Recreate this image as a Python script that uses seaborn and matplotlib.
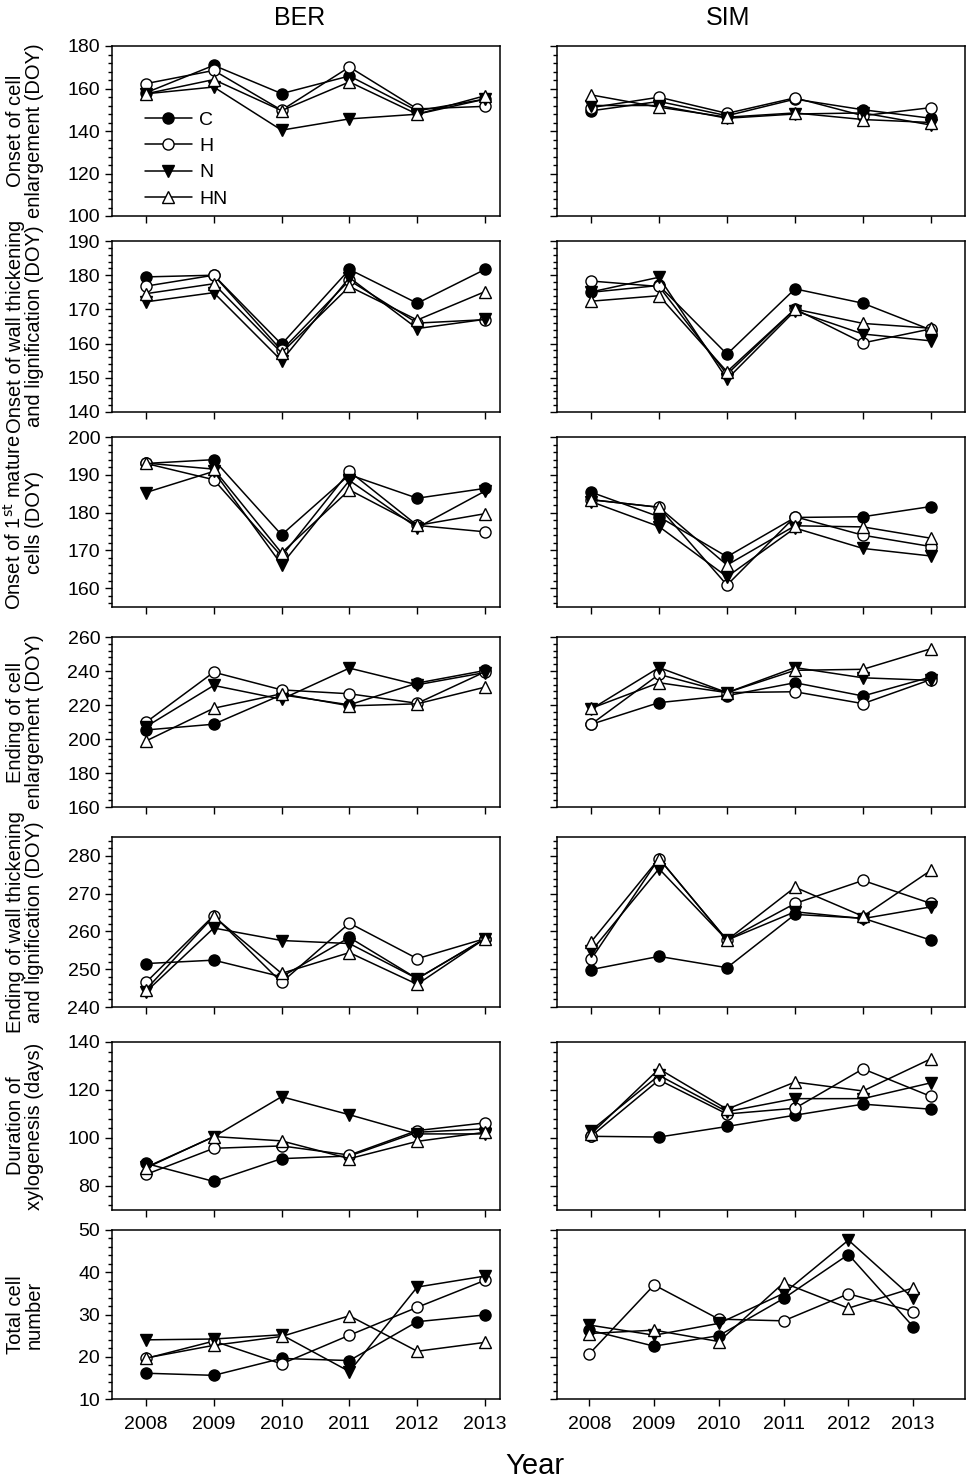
import matplotlib
matplotlib.use('Agg')
import matplotlib.pyplot as plt
from matplotlib.ticker import AutoMinorLocator, MultipleLocator
import pandas as pd
import seaborn as sns

sns.set_style('ticks')
plt.rcParams['font.family'] = ['Liberation Sans', 'DejaVu Sans']
plt.rcParams.update({'text.color': 'black', 'axes.labelcolor': 'black',
                     'xtick.color': 'black', 'ytick.color': 'black',
                     'axes.edgecolor': 'black'})

years = [2008, 2009, 2010, 2011, 2012, 2013]
treatments = ['C', 'H', 'N', 'HN']

# BER site
ber_enl_onset = {'C': [158, 170.9, 157.6, 165.9, 149.5, 155],
                 'H': [162.3, 168.5, 149.8, 170.1, 150.4, 151.6],
                 'N': [157.5, 160.7, 140.4, 145.7, 147.9, 155],
                 'HN': [157.5, 164.2, 149.6, 163.1, 147.9, 156.6]}
ber_wall_onset = {'C': [179.5, 180, 159.8, 181.7, 171.8, 181.7],
                  'H': [176.8, 180, 158, 178.5, 166, 167],
                  'N': [172.2, 174.9, 155, 179.3, 164.4, 167.1],
                  'HN': [174.6, 177.5, 157.3, 176.7, 166.9, 175.2]}
ber_mature_onset = {'C': [193, 194, 174.1, 190, 183.8, 186.4],
                    'H': [193, 188.7, 168.4, 190.9, 176.6, 174.9],
                    'N': [185.3, 190.9, 166.2, 188.5, 176, 185.7],
                    'HN': [193.1, 191.5, 169.3, 186, 176.6, 179.7]}
ber_enl_end = {'C': [205.3, 208.7, 226, 220.1, 232.9, 240.3],
               'H': [209.8, 239.3, 228.9, 226.6, 221, 239.5],
               'N': [207.2, 231.5, 223.4, 241.7, 231.9, 239.1],
               'HN': [198.8, 218.1, 226.6, 219.5, 220.7, 230.5]}
ber_wall_end = {'C': [251.5, 252.4, 248, 258.4, 247.5, 258.1],
                'H': [246.5, 264.2, 246.5, 262.2, 252.8, 258.1],
                'N': [244, 260.9, 257.6, 256.8, 247.5, 258.1],
                'HN': [244.6, 264, 248.9, 254.4, 246, 258.1]}
ber_duration = {'C': [89.4, 81.9, 91.4, 92.5, 102.4, 103.8],
                'H': [84.8, 95.7, 96.7, 92.9, 103.1, 106.3],
                'N': [87.8, 100.5, 117.2, 109.7, 101.7, 101.7],
                'HN': [87.5, 100.6, 98.8, 91.4, 98.6, 102.4]}
ber_cells = {'C': [16.1, 15.6, 19.6, 19.1, 28.3, 29.9],
             'H': [19.6, 23.7, 18.3, 25.1, 31.7, 38.1],
             'N': [24, 24.2, 25.2, 16.5, 36.5, 39.1],
             'HN': [19.7, 22.7, 24.8, 29.7, 21.3, 23.4]}

# SIM site
sim_enl_onset = {'C': [149.5, 153.9, 147.2, 155, 150, 146],
                 'H': [151, 155.9, 148.3, 155.6, 147.2, 151],
                 'N': [152, 152, 146, 148, 148.5, 142.8],
                 'HN': [157, 151.2, 146.5, 148.5, 145.4, 144]}
sim_wall_onset = {'C': [175, 177, 156.9, 176, 171.8, 164],
                  'H': [178.3, 176.7, 151, 170.1, 160.2, 164.3],
                  'N': [175.1, 179.4, 149.6, 169.6, 162.8, 160.8],
                  'HN': [172.4, 174, 151.8, 170.1, 165.9, 164.5]}
sim_mature_onset = {'C': [185.4, 178.9, 168.3, 178.7, 178.9, 181.6],
                    'H': [183.4, 181.4, 160.8, 178.9, 174, 171],
                    'N': [182.9, 176.3, 163, 175.9, 170.5, 168.5],
                    'HN': [183.4, 181.4, 166.1, 176.5, 176.2, 173.2]}
sim_enl_end = {'C': [208.6, 221.4, 225.5, 233.1, 225.3, 236.5],
               'H': [208.6, 238, 227.3, 227.8, 220.8, 235],
               'N': [217.5, 242, 227.3, 242, 236, 234.5],
               'HN': [218, 233.1, 227.3, 240.4, 241, 253.1]}
sim_wall_end = {'C': [249.9, 253.4, 250.4, 264.5, 263.5, 257.7],
                'H': [252.6, 279.3, 257.7, 267.4, 273.5, 267.4],
                'N': [254.7, 276.6, 257.7, 265.2, 263.4, 266.5],
                'HN': [257.2, 279.3, 257.7, 271.7, 264, 276.2]}
sim_duration = {'C': [100.7, 100.4, 104.8, 109.5, 114.1, 112],
                'H': [100.7, 124.2, 110, 112.4, 128.8, 117.3],
                'N': [103.1, 126.1, 111, 116.4, 116.4, 123],
                'HN': [101.7, 128.8, 112, 123.3, 119.6, 133]}
sim_cells = {'C': [26.3, 22.5, 25, 33.8, 44.2, 27.1],
             'H': [20.7, 37, 28.9, 28.5, 34.9, 30.7],
             'N': [27.5, 25.1, 27.9, 35, 47.6, 33.8],
             'HN': [25.5, 26.3, 23.6, 37.5, 31.5, 36.3]}

ylabels = ['Onset of cell\nenlargement (DOY)',
           'Onset of wall thickening\nand lignification (DOY)',
           'Onset of 1$^{\\mathrm{st}}$ mature\ncells (DOY)',
           'Ending of cell\nenlargement (DOY)',
           'Ending of wall thickening\nand lignification (DOY)',
           'Duration of\nxylogenesis (days)',
           'Total cell\nnumber']
ylims = [(100, 180), (140, 190), (155, 200), (160, 260), (240, 285), (70, 140), (10, 50)]
ysteps = [20, 10, 10, 20, 10, 20, 10]
ber_panels = [ber_enl_onset, ber_wall_onset, ber_mature_onset, ber_enl_end,
              ber_wall_end, ber_duration, ber_cells]
sim_panels = [sim_enl_onset, sim_wall_onset, sim_mature_onset, sim_enl_end,
              sim_wall_end, sim_duration, sim_cells]

marker_style = {'C': ('o', 'black'), 'H': ('o', 'white'),
                'N': ('v', 'black'), 'HN': ('^', 'white')}

W, H = 970, 1484
fig = plt.figure(figsize=(W / 100, H / 100), dpi=100)

row_px = [(46, 216), (241, 412), (437, 607), (637, 807),
          (837, 1007), (1042, 1210), (1230, 1399)]
col_px = [(112, 500), (557, 965)]


def long_df(d):
    rows = []
    for t in treatments:
        for yr, v in zip(years, d[t]):
            rows.append({'year': yr, 'value': v, 'trt': t})
    return pd.DataFrame(rows)


for r, (top, bot) in enumerate(row_px):
    for c, (left, right) in enumerate(col_px):
        ax = fig.add_axes([left / W, 1 - bot / H, (right - left) / W, (bot - top) / H])
        d = ber_panels[r] if c == 0 else sim_panels[r]
        df = long_df(d)
        for t in treatments:
            m, fc = marker_style[t]
            sub = df[df.trt == t]
            sns.lineplot(data=sub, x='year', y='value', ax=ax, color='black',
                         marker=m, markersize=8, markerfacecolor=fc,
                         markeredgecolor='black', markeredgewidth=1.0,
                         linewidth=1.1, label=t, legend=False)
        ax.set_ylim(*ylims[r])
        ax.yaxis.set_major_locator(MultipleLocator(ysteps[r]))
        ax.yaxis.set_minor_locator(AutoMinorLocator(5))
        if c == 0:
            ax.set_xlim(2007.5, 2013.22)
        elif r == 6:
            ax.set_xlim(2007.5, 2013.8)
        else:
            ax.set_xlim(2007.5, 2013.5)
        ax.set_xticks(years)
        ax.tick_params(axis='both', which='major', direction='out', length=5,
                       width=1, labelsize=14, color='black', labelcolor='black')
        ax.tick_params(axis='x', which='major', pad=7)
        ax.tick_params(axis='y', which='minor', direction='out', length=3, width=1)
        for s in ax.spines.values():
            s.set_linewidth(1.1)
            s.set_color('black')
        ax.set_xlabel('')
        ax.set_ylabel('')
        if r < 6:
            ax.set_xticklabels([])
        if c == 0:
            ax.set_ylabel(ylabels[r], fontsize=14.5, linespacing=1.0)
            ax.yaxis.set_label_coords(-0.175, 0.5)
        else:
            ax.set_yticklabels([])
        if r == 0 and c == 0:
            ax.legend(loc='upper left', bbox_to_anchor=(0.04, 0.72), frameon=False,
                      fontsize=14, handlelength=2.4, labelspacing=0.45,
                      handletextpad=0.4)

fig.text(300 / W, 1 - 18 / H, 'BER', fontsize=18, ha='center', va='center')
fig.text(728 / W, 1 - 18 / H, 'SIM', fontsize=18, ha='center', va='center')
fig.text(535 / W, 1 - 1466 / H, 'Year', fontsize=21, ha='center', va='center')

fig.savefig('out.png', dpi=100)
